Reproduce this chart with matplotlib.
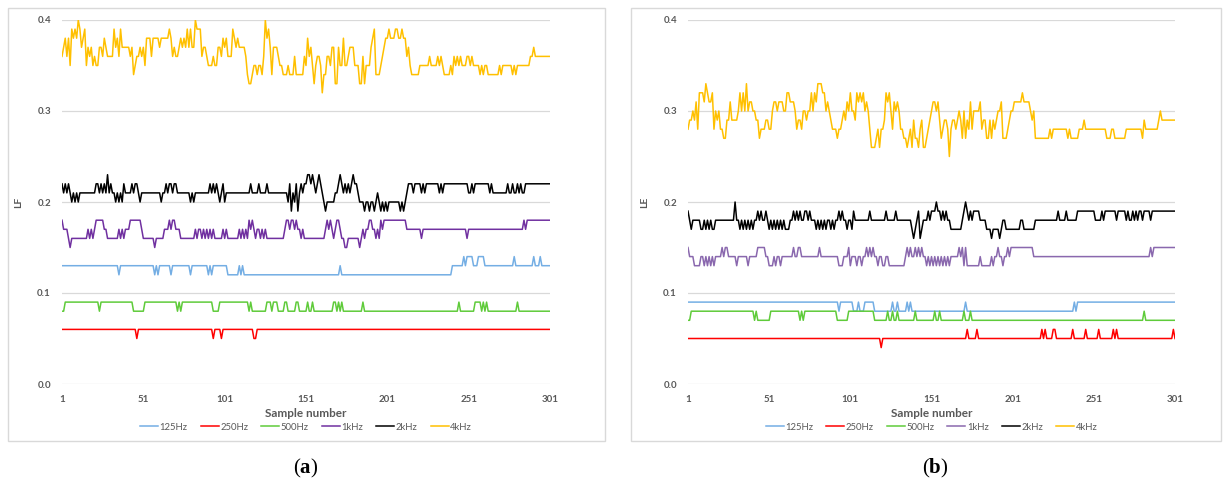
import numpy as np
import matplotlib
matplotlib.use("Agg")
import matplotlib.pyplot as plt
from matplotlib.patches import Rectangle

plt.rcParams['font.family'] = ['Lato', 'DejaVu Sans']
plt.rcParams['mathtext.fontset'] = 'custom'
plt.rcParams['mathtext.rm'] = 'Liberation Serif'
plt.rcParams['mathtext.bf'] = 'Liberation Serif:bold'

samples = np.arange(1, 302)
xtick_vals = [1, 51, 101, 151, 201, 251, 301]
ytick_vals = [0.0, 0.1, 0.2, 0.3, 0.4]
series_names = ["125Hz", "250Hz", "500Hz", "1kHz", "2kHz", "4kHz"]

# ---- panel (a): LF, values in hundredths ----
a_125 = ([13] * 35 + [12] + [13] * 21 + [12, 13, 12] + [13] * 7 + [12] + [13] * 11 + [12]
         + [13] * 10 + [12, 13, 12] + [13] * 9 + [12] * 7 + [13, 12, 13] + [12] * 59 + [13]
         + [12] * 68 + [13] * 7 + [14, 13] + [14] * 4 + [13] * 3 + [14] * 4 + [13] * 18 + [14]
         + [13] * 11 + [14] + [13] * 3 + [14] + [13] * 6)
a_250 = [6] * 46 + [5] + [6] * 46 + [5] + [6] * 4 + [5] + [6] * 19 + [5] * 2 + [6] * 181
a_500 = ([8] * 2 + [9] * 21 + [8] + [9] * 20 + [8] * 7 + [9] * 20 + [8, 9, 8] + [9] * 19
         + [8] * 4 + [9] * 18 + [8, 9] + [8] * 9 + [9] * 3 + [8] + [9] * 3 + [8] * 4 + [9] * 2
         + [8] * 5 + [9] * 2 + [8] * 5 + [9] + [8] * 2 + [9] + [8] * 12 + [9, 9, 8, 9, 8, 9]
         + [8] * 12 + [9] + [8] * 58 + [9] + [8] * 9 + [9] * 4 + [8, 9, 8, 9] + [8] * 18 + [9]
         + [8] * 20)
a_1k = [18, 17, 17, 17, 16, 15, 16, 16, 16, 16, 16, 16, 16, 16, 16, 16, 17, 16, 17, 16,
        17, 18, 18, 18, 18, 18, 17, 17, 16, 16, 16, 16, 16, 16, 16, 17, 16, 17, 16, 17,
        17, 17, 18, 18, 18, 18, 18, 18, 18, 17, 16, 16, 16, 16, 16, 16, 16, 15, 16, 16,
        16, 16, 16, 17, 17, 17, 18, 17, 18, 18, 17, 17, 17, 16, 16, 16, 16, 16, 16, 16,
        16, 16, 17, 16, 17, 17, 16, 17, 16, 17, 16, 17, 16, 17, 16, 16, 16, 16, 16, 17,
        16, 17, 16, 16, 16, 16, 16, 16, 16, 17, 16, 17, 16, 17, 16, 18, 17, 18, 17, 16,
        17, 17, 16, 17, 16, 17, 16, 16, 16, 16, 16, 16, 16, 16, 16, 16, 16, 17, 18, 18,
        17, 18, 18, 17, 18, 17, 17, 16, 17, 16, 16, 16, 16, 16, 16, 16, 16, 16, 16, 16,
        16, 16, 17, 18, 17, 18, 17, 16, 17, 18, 18, 17, 16, 16, 15, 15, 16, 16, 16, 16,
        16, 16, 16, 15, 16, 17, 16, 17, 17, 18, 18, 17, 17, 16, 17, 16, 18, 17, 18, 18,
        18, 18, 18, 18, 18, 18, 18, 18, 18, 18, 18, 18, 17, 17, 17, 17, 17, 17, 17, 17,
        17, 16, 17, 17, 17, 17, 17, 17, 17, 17, 17, 17, 17, 17, 17, 17, 17, 17, 17, 17,
        17, 17, 17, 17, 17, 17, 17, 17, 17, 16, 17, 17, 17, 17, 17, 17, 17, 17, 17, 17,
        17, 17, 17, 17, 17, 17, 17, 17, 17, 17, 17, 17, 17, 17, 17, 17, 17, 17, 17, 17,
        17, 17, 17, 17, 18, 17, 18, 18, 18, 18, 18, 18, 18, 18, 18, 18, 18, 18, 18, 18, 18]
a_2k = [22, 21, 22, 21, 22, 21, 20, 21, 20, 21, 20, 21, 21, 21, 21, 21, 21, 21, 21, 21,
        21, 22, 22, 21, 22, 21, 22, 21, 23, 21, 22, 21, 21, 20, 21, 20, 21, 20, 22, 21,
        21, 21, 21, 22, 21, 22, 22, 21, 20, 21, 21, 21, 21, 21, 21, 21, 21, 21, 21, 21,
        21, 20, 21, 21, 22, 21, 22, 22, 21, 22, 22, 21, 21, 21, 21, 21, 21, 21, 21, 20,
        21, 20, 21, 21, 21, 21, 21, 21, 21, 21, 21, 22, 21, 22, 21, 22, 21, 20, 21, 22,
        20, 21, 21, 21, 21, 21, 21, 21, 21, 21, 21, 21, 21, 21, 21, 21, 22, 21, 21, 21,
        21, 22, 21, 21, 21, 21, 22, 21, 21, 21, 21, 21, 21, 21, 21, 21, 21, 21, 21, 20,
        22, 19, 21, 20, 22, 19, 21, 22, 21, 22, 22, 23, 23, 22, 23, 22, 21, 22, 23, 22,
        21, 20, 19, 20, 20, 20, 20, 20, 21, 21, 22, 23, 22, 21, 22, 21, 22, 21, 22, 23,
        22, 22, 21, 20, 20, 20, 19, 20, 20, 19, 20, 20, 19, 20, 21, 20, 19, 20, 19, 20,
        19, 20, 20, 20, 20, 20, 20, 20, 19, 20, 19, 20, 21, 22, 22, 22, 21, 22, 22, 22,
        22, 21, 22, 21, 22, 22, 22, 22, 22, 22, 22, 22, 21, 22, 21, 22, 22, 22, 22, 22,
        22, 22, 22, 22, 22, 22, 22, 22, 22, 22, 21, 21, 22, 21, 22, 22, 22, 22, 22, 22,
        22, 22, 22, 21, 22, 21, 21, 21, 21, 21, 21, 21, 21, 21, 22, 21, 21, 22, 21, 21,
        22, 21, 22, 21, 21, 22, 22, 22, 22, 22, 22, 22, 22, 22, 22, 22, 22, 22, 22, 22, 22]
a_4k = [36, 37, 38, 36, 38, 35, 39, 38, 39, 38, 40, 39, 37, 38, 39, 35, 37, 36, 37, 35,
        36, 35, 35, 37, 37, 36, 38, 37, 36, 36, 36, 36, 39, 37, 38, 36, 39, 37, 37, 37,
        37, 37, 36, 37, 34, 35, 36, 36, 37, 36, 37, 35, 38, 38, 38, 36, 38, 38, 38, 38,
        37, 38, 38, 38, 38, 38, 39, 38, 36, 37, 36, 36, 37, 38, 37, 38, 37, 39, 37, 39,
        37, 37, 40, 39, 39, 39, 36, 37, 37, 36, 35, 35, 35, 36, 35, 35, 37, 37, 36, 38,
        37, 38, 36, 36, 36, 39, 38, 37, 38, 37, 37, 37, 37, 36, 34, 33, 33, 34, 35, 35,
        34, 35, 35, 34, 36, 40, 38, 39, 37, 34, 37, 37, 37, 36, 35, 35, 34, 34, 34, 35,
        34, 34, 34, 36, 34, 34, 34, 34, 34, 36, 35, 38, 36, 37, 35, 33, 35, 36, 36, 35,
        32, 34, 34, 36, 36, 35, 37, 37, 33, 33, 37, 35, 35, 38, 35, 35, 36, 37, 37, 37,
        35, 35, 35, 33, 33, 36, 33, 35, 35, 35, 37, 38, 39, 34, 34, 34, 35, 36, 37, 38,
        38, 39, 38, 38, 38, 39, 39, 38, 38, 39, 38, 38, 36, 37, 35, 34, 34, 34, 34, 34,
        35, 35, 35, 35, 35, 35, 36, 35, 35, 35, 35, 36, 35, 36, 35, 34, 34, 34, 34, 35,
        34, 36, 35, 36, 35, 36, 35, 35, 35, 36, 36, 35, 36, 35, 35, 35, 35, 34, 35, 34,
        35, 35, 34, 34, 34, 34, 34, 34, 34, 35, 34, 35, 35, 35, 35, 35, 35, 34, 35, 34,
        35, 35, 35, 35, 35, 35, 35, 35, 36, 36, 37, 36, 36, 36, 36, 36, 36, 36, 36, 36, 36]

# ---- panel (b): LE, values in hundredths ----
b_125 = ([9] * 93 + [8] + [9] * 8 + [8] * 3 + [9] + [8] * 3 + [9] * 6 + [8] * 11 + [9]
         + [8] * 2 + [9] + [8] * 5 + [9] + [8] + [9] + [8] * 33 + [9] + [8] * 66 + [9, 8]
         + [9] * 61)
b_250 = ([5] * 119 + [4] + [5] * 52 + [6] + [5] * 5 + [6] + [5] * 39 + [6] + [5] + [6]
         + [5] * 4 + [6] * 2 + [5] * 10 + [6] + [5] * 7 + [6] + [5] * 7 + [6] + [5] * 8 + [6]
         + [5] + [6] + [5] * 34 + [6] + [5])
b_500 = ([7] * 2 + [8] * 39 + [7] + [8] + [7] * 8 + [8] * 18 + [7, 8, 7] + [8] * 20 + [7] * 7
         + [8] * 16 + [7] * 8 + [8] + [7] * 2 + [8] + [7] * 2 + [8] + [7] * 10 + [8] + [7] * 11
         + [8] + [7] * 2 + [8] + [7] * 14 + [8] + [7] * 3 + [8] + [7] * 106 + [8] + [7] * 19)
b_1k = [15, 14, 14, 14, 13, 13, 13, 13, 14, 14, 13, 14, 13, 14, 13, 14, 13, 14, 14, 14,
        14, 15, 14, 15, 15, 14, 14, 14, 14, 14, 13, 14, 14, 14, 14, 14, 14, 13, 14, 14,
        14, 14, 14, 15, 15, 15, 15, 15, 14, 14, 13, 13, 13, 14, 13, 14, 14, 13, 14, 14,
        14, 14, 14, 14, 14, 15, 14, 14, 15, 15, 14, 14, 14, 14, 14, 14, 14, 14, 14, 14,
        14, 15, 14, 14, 14, 14, 14, 14, 14, 14, 14, 14, 14, 13, 13, 13, 14, 14, 14, 15,
        13, 14, 14, 14, 13, 14, 14, 13, 14, 14, 15, 14, 15, 14, 15, 14, 14, 13, 14, 14,
        13, 13, 14, 14, 13, 13, 13, 13, 13, 13, 13, 13, 13, 13, 14, 15, 14, 15, 14, 14,
        15, 14, 15, 14, 15, 14, 14, 13, 14, 13, 14, 13, 14, 13, 14, 13, 14, 13, 14, 13,
        14, 13, 14, 14, 14, 14, 14, 15, 14, 15, 13, 15, 13, 13, 13, 13, 13, 13, 13, 13,
        14, 13, 13, 13, 13, 13, 13, 14, 13, 14, 14, 15, 14, 14, 13, 14, 14, 15, 14, 15,
        15, 15, 15, 15, 15, 15, 15, 15, 15, 15, 15, 15, 15, 14, 14, 14, 14, 14, 14, 14,
        14, 14, 14, 14, 14, 14, 14, 14, 14, 14, 14, 14, 14, 14, 14, 14, 14, 14, 14, 14,
        14, 14, 14, 14, 14, 14, 14, 14, 14, 14, 14, 14, 14, 14, 14, 14, 14, 14, 14, 14,
        14, 14, 14, 14, 14, 14, 14, 14, 14, 14, 14, 14, 14, 14, 14, 14, 14, 14, 14, 14,
        14, 14, 14, 14, 14, 15, 14, 15, 15, 15, 15, 15, 15, 15, 15, 15, 15, 15, 15, 15, 15]
b_2k = [19, 18, 17, 18, 18, 18, 18, 18, 17, 17, 18, 17, 18, 17, 18, 17, 17, 18, 18, 18,
        18, 18, 18, 18, 18, 18, 18, 18, 18, 20, 18, 18, 17, 18, 17, 18, 17, 18, 17, 18,
        17, 18, 18, 19, 18, 19, 18, 18, 19, 18, 17, 18, 17, 18, 17, 18, 17, 18, 17, 18,
        17, 17, 17, 18, 18, 19, 18, 19, 18, 19, 18, 18, 19, 19, 18, 19, 18, 18, 18, 17,
        18, 17, 18, 17, 18, 17, 18, 18, 17, 18, 17, 18, 18, 19, 18, 19, 18, 18, 17, 18,
        18, 17, 19, 18, 18, 18, 18, 18, 18, 18, 18, 18, 19, 18, 18, 18, 18, 18, 18, 18,
        18, 18, 19, 18, 18, 18, 18, 18, 19, 18, 18, 18, 18, 18, 18, 18, 18, 18, 17, 16,
        17, 18, 19, 16, 17, 18, 18, 18, 19, 18, 19, 19, 19, 20, 19, 19, 18, 19, 18, 19,
        18, 18, 17, 17, 17, 17, 17, 17, 17, 18, 19, 20, 19, 18, 19, 18, 19, 19, 19, 19,
        18, 18, 18, 18, 17, 17, 17, 16, 17, 17, 17, 17, 16, 17, 18, 18, 17, 17, 17, 17,
        17, 17, 17, 17, 17, 18, 18, 17, 17, 17, 17, 17, 17, 17, 18, 18, 18, 18, 18, 18,
        18, 18, 18, 18, 18, 18, 18, 18, 19, 18, 18, 18, 18, 19, 18, 18, 18, 18, 18, 18,
        19, 19, 19, 19, 19, 19, 19, 19, 19, 19, 19, 18, 18, 18, 18, 19, 18, 19, 19, 19,
        19, 19, 19, 19, 18, 19, 19, 19, 19, 19, 18, 19, 18, 18, 19, 18, 19, 18, 19, 19,
        18, 19, 19, 19, 19, 18, 19, 19, 19, 19, 19, 19, 19, 19, 19, 19, 19, 19, 19, 19, 19]
b_4k = [28, 29, 29, 30, 29, 31, 28, 32, 32, 32, 31, 33, 32, 31, 31, 32, 28, 30, 29, 30,
        28, 28, 27, 27, 29, 29, 31, 29, 29, 29, 29, 30, 32, 30, 32, 30, 33, 30, 31, 31,
        30, 30, 29, 29, 27, 28, 28, 28, 29, 29, 28, 28, 30, 31, 31, 30, 31, 31, 31, 30,
        30, 32, 32, 31, 31, 31, 30, 28, 29, 29, 28, 30, 30, 29, 30, 30, 32, 30, 32, 31,
        33, 33, 33, 32, 32, 30, 31, 30, 29, 28, 28, 28, 27, 28, 28, 29, 30, 29, 31, 30,
        32, 30, 30, 29, 32, 31, 32, 31, 32, 30, 31, 30, 28, 26, 26, 26, 27, 28, 26, 28,
        28, 29, 32, 31, 32, 30, 28, 31, 30, 31, 30, 28, 28, 27, 27, 26, 27, 28, 26, 29,
        27, 27, 26, 28, 29, 26, 26, 27, 28, 29, 30, 31, 31, 30, 31, 29, 27, 28, 29, 29,
        28, 25, 28, 29, 29, 28, 29, 30, 29, 27, 30, 27, 29, 28, 31, 28, 30, 30, 30, 30,
        31, 28, 29, 29, 27, 27, 29, 27, 29, 28, 29, 30, 30, 31, 27, 27, 27, 28, 29, 30,
        30, 31, 31, 31, 31, 31, 32, 31, 31, 31, 31, 30, 29, 30, 27, 27, 27, 27, 27, 27,
        27, 27, 27, 28, 27, 28, 28, 28, 28, 28, 28, 28, 28, 28, 27, 28, 27, 27, 27, 27,
        27, 28, 28, 28, 29, 28, 28, 28, 28, 28, 28, 28, 28, 28, 28, 28, 28, 28, 27, 27,
        27, 28, 28, 27, 27, 27, 27, 27, 27, 27, 28, 28, 28, 28, 28, 28, 28, 28, 28, 28,
        27, 29, 28, 28, 28, 28, 28, 28, 28, 28, 29, 30, 29, 29, 29, 29, 29, 29, 29, 29, 29]

panel_a = [a_125, a_250, a_500, a_1k, a_2k, a_4k]
panel_b = [b_125, b_250, b_500, b_1k, b_2k, b_4k]
for s in panel_a + panel_b:
    assert len(s) == 301, len(s)

colors_a = ["#74AEE4", "#FF0000", "#5FCB3A", "#7030A0", "#000000", "#FFC000"]
colors_b = ["#74AEE4", "#FF0000", "#5FCB3A", "#8A68AE", "#000000", "#FFC000"]

W, H = 1224, 488
fig = plt.figure(figsize=(W / 100, H / 100), dpi=100)
grey_txt = "#595959"


def draw_panel(left_px, right_px, box, data, colors, ylabel, tag, tag_x):
    # chart frame like an Excel chart area
    bx0, by0, bx1, by1 = box
    fig.patches.append(Rectangle((bx0 / W, 1 - by1 / H), (bx1 - bx0) / W, (by1 - by0) / H,
                                 transform=fig.transFigure, fill=False,
                                 edgecolor="#d9d9d9", linewidth=1.0))
    ax = fig.add_axes([left_px / W, 1 - 384 / H, (right_px - left_px) / W, (384 - 20) / H])
    for vals, name, c in zip(data, series_names, colors):
        ax.plot(samples, np.array(vals) / 100.0, color=c, lw=1.1, label=name)
    ax.set_xlim(1, 301)
    ax.set_ylim(0, 0.4)
    ax.set_xticks(xtick_vals)
    ax.set_yticks(ytick_vals)
    ax.set_yticklabels([f"{v:.1f}" for v in ytick_vals])
    ax.yaxis.grid(True, color="#d9d9d9", lw=0.9)
    ax.set_axisbelow(True)
    for sp in ax.spines.values():
        sp.set_visible(False)
    ax.tick_params(length=0, labelsize=7, labelcolor=grey_txt, pad=8)
    for lab in ax.get_xticklabels() + ax.get_yticklabels():
        lab.set_fontweight("bold")
    ax.set_xlabel("Sample number", fontsize=8.5, fontweight="bold", color=grey_txt, labelpad=3)
    ax.set_ylabel(ylabel, fontsize=7.5, fontweight="bold", color=grey_txt, labelpad=10)
    ax.legend(loc="upper center", bbox_to_anchor=(0.5, -0.088), ncol=6, frameon=False,
              fontsize=6.8, labelcolor=grey_txt, handlelength=1.9, handletextpad=0.15,
              columnspacing=1.4, borderpad=0.2)
    fig.text(tag_x / W, 1 - 468 / H, r"($\mathbf{" + tag + r"}$)", ha="center", va="center",
             fontsize=15, family="Liberation Serif")
    return ax


draw_panel(62, 550, (8, 8, 605, 441), panel_a, colors_a, "LF", "a", 306)
draw_panel(688, 1175, (631, 8, 1221, 441), panel_b, colors_b, "LE", "b", 935)

fig.savefig("out.png", dpi=100)
